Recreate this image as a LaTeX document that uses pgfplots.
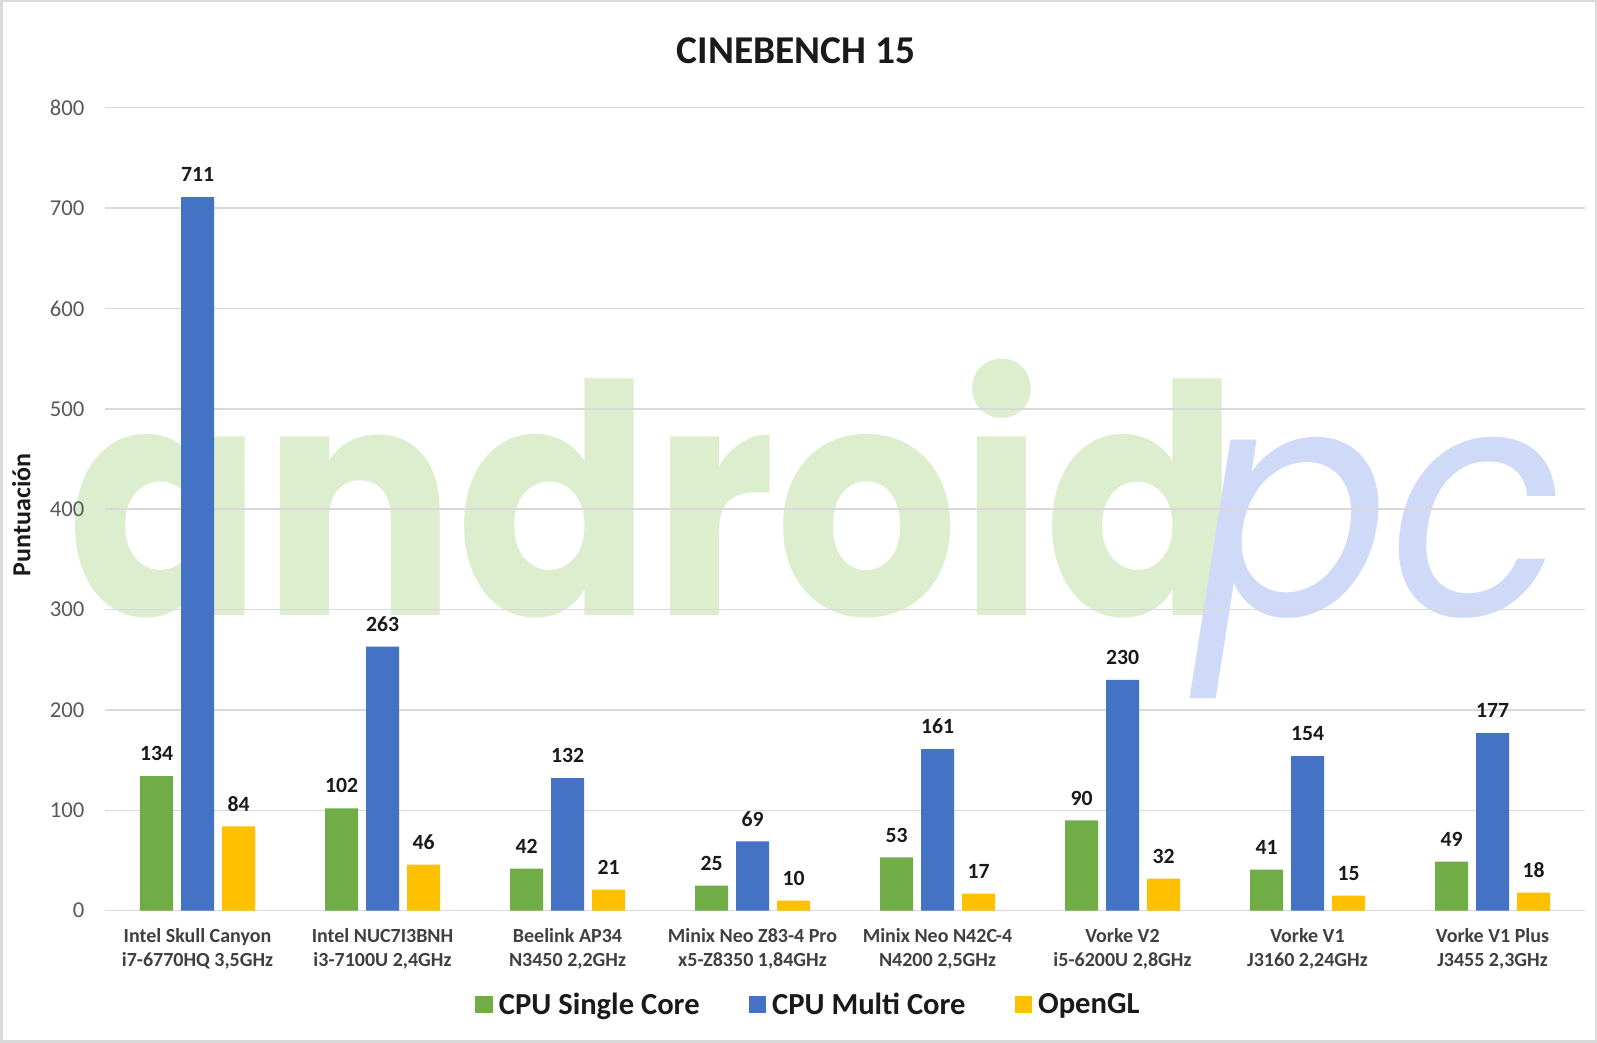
\documentclass[border=0pt]{standalone}
\usepackage{fontspec}
\setmainfont{Carlito}
\newfontfamily\wmfont{Poppins}
\usepackage{pgfplots}
\pgfplotsset{compat=1.18}
\definecolor{cgreen}{HTML}{70AD47}
\definecolor{cblue}{HTML}{4472C4}
\definecolor{cyellow}{HTML}{FFC000}
\definecolor{wmgreen}{HTML}{DDEECF}
\definecolor{wmblue}{HTML}{CFDAF8}
\definecolor{gridc}{HTML}{D9D9D9}
\definecolor{ticktext}{HTML}{595959}
\definecolor{cattext}{HTML}{404040}
\definecolor{darktext}{HTML}{1A1A1A}
\pgfplotsset{mylegend/.style={legend image code/.code={\fill[##1] (0pt,-8.7pt) rectangle (17.5pt,8.7pt);}}}
\begin{document}
\begin{tikzpicture}[x=1pt,y=1pt]
\useasboundingbox (0,0) rectangle (1597,1043);
\fill[white] (0,0) rectangle (1597,1043);
\draw[gridc, line width=2.5pt] (1.25,1.25) rectangle (1595.75,1041.75);
\node[anchor=base west, inner sep=0pt, xscale=0.9, text=wmgreen, font=\wmfont\bfseries\fontsize{320}{320}\selectfont] at (67,427) {android};
\node[anchor=base west, inner sep=0pt, xscale=0.9, text=wmblue, font=\wmfont\itshape\fontsize{320}{320}\selectfont] at (1195,427) {pc};
\begin{axis}[
  at={(105pt,132.3pt)}, anchor=south west,
  scale only axis, width=1480pt, height=803pt,
  ybar=8pt, bar width=33pt,
  xmin=-0.5, xmax=7.5, ymin=0, ymax=800,
  ytick={0,100,...,800},
  xtick={0,...,7},
  xticklabels={{Intel Skull Canyon\\i7-6770HQ 3,5GHz},{Intel NUC7I3BNH\\i3-7100U 2,4GHz},{Beelink AP34\\N3450 2,2GHz},{Minix Neo Z83-4 Pro\\x5-Z8350 1,84GHz},{Minix Neo N42C-4\\N4200 2,5GHz},{Vorke V2\\i5-6200U 2,8GHz},{Vorke V1\\J3160 2,24GHz},{Vorke V1 Plus\\J3455 2,3GHz}},
  xticklabel style={font=\bfseries\fontsize{20}{24}\selectfont, align=center, text=cattext, yshift=-14pt},
  yticklabel style={font=\fontsize{22.7}{22.7}\selectfont, text=ticktext, xshift=-17pt},
  /pgf/number format/assume math mode=true,
  major tick length=0pt,
  axis line style={draw=none},
  ymajorgrids, grid style={gridc, line width=1.5pt},
  title={CINEBENCH 15},
  title style={at={(0.467,1.064)}, anchor=center, font=\bfseries\fontsize{39.4}{39.4}\selectfont, text=darktext},
  ylabel={Puntuación},
  ylabel style={at={(axis description cs:-0.0565,0.493)}, anchor=center, font=\bfseries\fontsize{26}{26}\selectfont, text=darktext},
  nodes near coords,
  every node near coord/.append style={font=\bfseries\fontsize{21.7}{21.7}\selectfont, text=darktext, inner sep=2pt, yshift=13pt},
  legend columns=3,
  legend style={at={(0.476,-0.1165)}, anchor=center, draw=none, fill=none,
    font=\bfseries\fontsize{30.6}{30.6}\selectfont, text=darktext,
    nodes={inner sep=4pt},
    /tikz/every odd column/.append style={column sep=2pt},
    /tikz/every even column/.append style={column sep=45pt}},
]
\addplot[fill=cgreen, draw=none, mylegend] coordinates {(0,134) (1,102) (2,42) (3,25) (4,53) (5,90) (6,41) (7,49)};
\addplot[fill=cblue, draw=none, mylegend] coordinates {(0,711) (1,263) (2,132) (3,69) (4,161) (5,230) (6,154) (7,177)};
\addplot[fill=cyellow, draw=none, mylegend] coordinates {(0,84) (1,46) (2,21) (3,10) (4,17) (5,32) (6,15) (7,18)};
\legend{CPU Single Core, CPU Multi Core, OpenGL}
\end{axis}
\end{tikzpicture}
\end{document}
